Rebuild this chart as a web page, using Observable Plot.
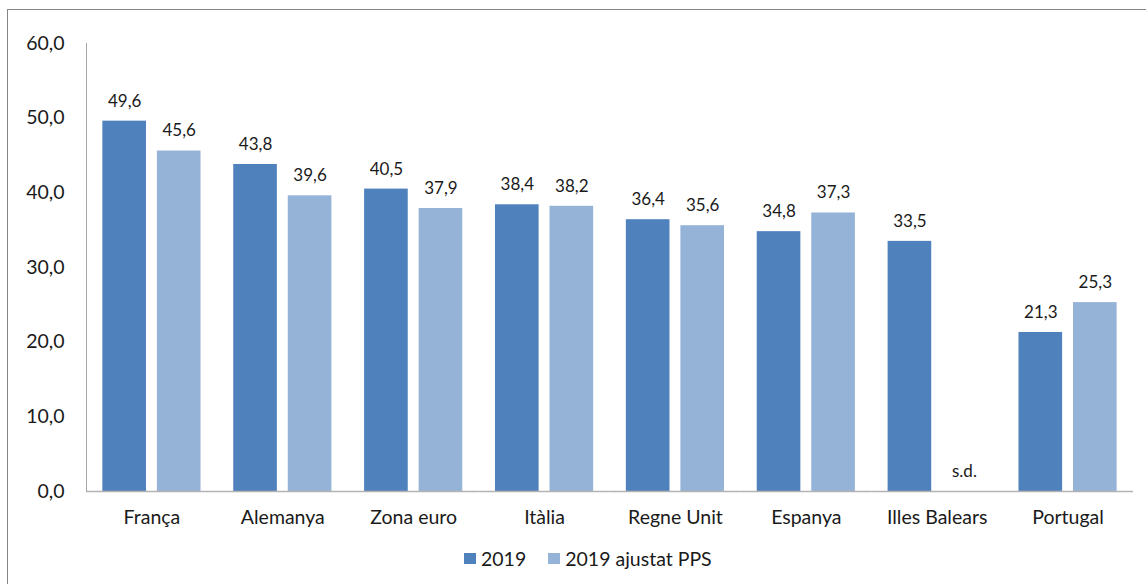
<!DOCTYPE html>
<html>
<head>
<meta charset="utf-8">
<script src="https://cdn.jsdelivr.net/npm/d3@7"></script>
<script src="https://cdn.jsdelivr.net/npm/@observablehq/plot@0.6"></script>
<style>
  html, body { margin: 0; padding: 0; background: #fff; }
  body { width: 1146px; height: 584px; position: relative; overflow: hidden; font-family: Lato, "Open Sans", sans-serif; }
  #border { position: absolute; left: 7px; top: 9px; right: -2px; bottom: -2px; border-top: 1px solid #868686; border-left: 1px solid #868686; pointer-events: none; }
  #chart { position: absolute; left: 0; top: 0; }
  #legend { position: absolute; left: 464px; top: 547px; display: flex; align-items: center; font-size: 19.5px; color: #1a1a1a; }
  .item { display: flex; align-items: center; margin-right: 22px; }
  .sw { width: 12px; height: 11px; margin-right: 5px; }
</style>
</head>
<body>
<div id="border"></div>
<div id="chart"></div>
<div id="legend"></div>
<script>
const categories = ["França", "Alemanya", "Zona euro", "Itàlia", "Regne Unit", "Espanya", "Illes Balears", "Portugal"];
const series = ["2019", "2019 ajustat PPS"];
const values2019 = [49.6, 43.8, 40.5, 38.4, 36.4, 34.8, 33.5, 21.3];
const valuesPPS = [45.6, 39.6, 37.9, 38.2, 35.6, 37.3, null, 25.3];
const yTicks = [0, 10, 20, 30, 40, 50, 60];
const colors = ["#4F81BD", "#95B3D7"];
const missingLabel = "s.d.";

const rows = categories.flatMap((c, i) => [
  {cat: c, series: series[0], value: values2019[i]},
  {cat: c, series: series[1], value: valuesPPS[i]}
]);
const fmt = v => d3.format(".1f")(v).replace(".", ",");

const chart = Plot.plot({
  width: 1146,
  height: 540,
  marginLeft: 86,
  marginRight: 13,
  marginTop: 43,
  marginBottom: 49,
  style: {fontFamily: "Lato, 'Open Sans', sans-serif", background: "transparent", color: "#1a1a1a"},
  fx: {domain: categories, paddingInner: 0, paddingOuter: 0, round: false, label: null},
  x: {domain: series, paddingInner: 0.2, paddingOuter: 0.3, round: false, axis: null},
  y: {domain: [0, 60], axis: null},
  color: {domain: series, range: colors},
  marks: [
    Plot.barY(rows.filter(d => d.value != null), {fx: "cat", x: "series", y: "value", fill: "series"}),
    Plot.text(rows, {
      fx: "cat", x: "series",
      y: d => d.value ?? 0,
      text: d => d.value == null ? missingLabel : fmt(d.value),
      dy: -20, fontSize: 17, fill: "#1a1a1a"
    }),
    Plot.ruleY([0], {stroke: "#b3b3b3", strokeWidth: 1.5}),
    Plot.axisY(yTicks, {tickSize: 0, tickPadding: 22, tickFormat: fmt, fontSize: 19.5, label: null}),
    Plot.axisFx({anchor: "bottom", tickSize: 0, tickPadding: 19, fontSize: 19.5, label: null}),
    Plot.frame({anchor: "left", facet: "super", stroke: "#a6a6a6"})
  ]
});
document.getElementById("chart").appendChild(chart);

const legend = document.getElementById("legend");
series.forEach((s, i) => {
  const item = document.createElement("div");
  item.className = "item";
  const sw = document.createElement("div");
  sw.className = "sw";
  sw.style.background = colors[i];
  const t = document.createElement("span");
  t.textContent = s;
  item.appendChild(sw);
  item.appendChild(t);
  legend.appendChild(item);
});
</script>
</body>
</html>
